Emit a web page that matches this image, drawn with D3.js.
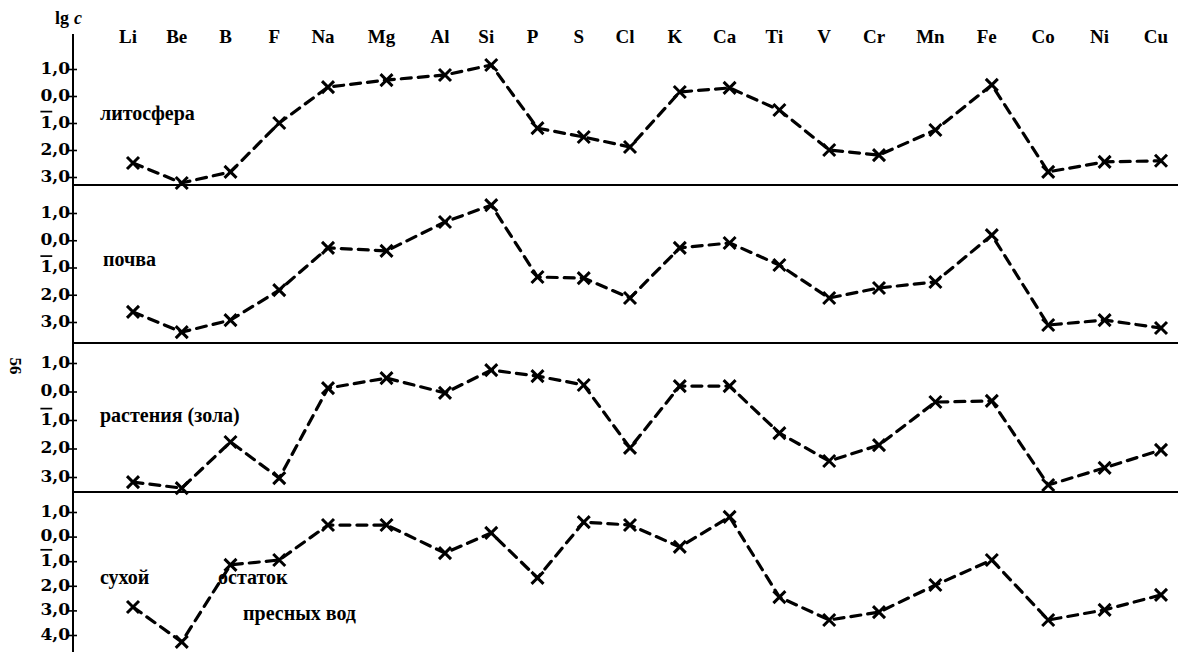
<!DOCTYPE html>
<html>
<head>
<meta charset="utf-8">
<script src="https://cdn.jsdelivr.net/npm/d3@7"></script>
<style>
  html, body { margin: 0; padding: 0; background: #fff; }
  svg { display: block; }
</style>
</head>
<body>
<div id="chart"></div>
<script>
// ---------------- data ----------------
const elements = ["Li","Be","B","F","Na","Mg","Al","Si","P","S","Cl","K","Ca","Ti","V","Cr","Mn","Fe","Co","Ni","Cu"];

const lithosphere = [-2.48,-3.22,-2.81,-1.0,0.33,0.59,0.78,1.15,-1.19,-1.52,-1.89,0.15,0.30,-0.52,-2.0,-2.19,-1.26,0.41,-2.81,-2.44,-2.4];
const soil        = [-2.63,-3.37,-2.93,-1.83,-0.28,-0.39,0.67,1.29,-1.35,-1.39,-2.12,-0.28,-0.10,-0.91,-2.12,-1.75,-1.53,0.19,-3.11,-2.93,-3.22];
const plantAsh    = [-3.18,-3.39,-1.77,-3.04,0.12,0.47,-0.05,0.75,0.54,0.23,-1.98,0.19,0.19,-1.46,-2.44,-1.88,-0.37,-0.33,-3.28,-2.68,-2.05];
const freshWater  = [-2.86,-4.28,-1.15,-0.95,0.47,0.47,-0.67,0.15,-1.68,0.59,0.47,-0.42,0.80,-2.46,-3.39,-3.07,-1.97,-0.95,-3.39,-2.98,-2.37];

const tickValues4 = [1,0,-1,-2,-3];
const tickLabels4 = ["1,0","0,0","1\u0304,0","2,0","3,0"];
const tickValues5 = [1,0,-1,-2,-3,-4];
const tickLabels5 = ["1,0","0,0","1\u0304,0","2,0","3,0","4,0"];

const labelLithosphere = ["литосфера"];
const labelSoil = ["почва"];
const labelPlants = ["растения (зола)"];
const labelWater = ["сухой","остаток","пресных вод"];

const axisTitle = "lg";
const axisTitleVar = "c";
const pageNumber = "56";

// ---------------- layout ----------------
const W = 1178, H = 655;
const axisX = 73;
const svg = d3.select("#chart").append("svg").attr("width", W).attr("height", H);

const serif = "'Liberation Serif', 'Times New Roman', serif";
const wideSerif = "'DejaVu Serif', serif";

// x: printed figure has slightly uneven column spacing
const x = d3.scaleLinear()
  .domain([0, 4, 6, 10, 15, 20])
  .range([133, 328, 445, 630, 879, 1161]);
const xi = name => x(elements.indexOf(name));

const panels = [
  { values: lithosphere, tv: tickValues4, tl: tickLabels4, domain: [1,-3], range: [69,177], sep: 185,
    labels: labelLithosphere, labelPos: [[100,120]] },
  { values: soil, tv: tickValues4, tl: tickLabels4, domain: [1,-3], range: [213,322], sep: 343,
    labels: labelSoil, labelPos: [[103,266]] },
  { values: plantAsh, tv: tickValues4, tl: tickLabels4, domain: [1,-3], range: [363,477], sep: 492,
    labels: labelPlants, labelPos: [[100,422]] },
  { values: freshWater, tv: tickValues5, tl: tickLabels5, domain: [1,-4], range: [512,635], sep: null,
    labels: labelWater, labelPos: [[100,584],[218,584],[243,620]] }
];

// vertical axis line
svg.append("line")
  .attr("x1", axisX).attr("x2", axisX).attr("y1", 34).attr("y2", 652)
  .attr("stroke", "#000").attr("stroke-width", 2);

// axis title
const t = svg.append("text").attr("x", 55).attr("y", 24)
  .attr("font-family", serif).attr("font-weight", "bold").attr("font-size", 18);
t.append("tspan").text(axisTitle);
t.append("tspan").attr("dx", 5).attr("font-style", "italic").text(axisTitleVar);

// column labels
svg.append("g").selectAll("text").data(elements).join("text")
  .attr("x", d => xi(d) - 5)
  .attr("y", 43)
  .attr("text-anchor", "middle")
  .attr("font-family", serif).attr("font-weight", "bold").attr("font-size", 19)
  .text(d => d);

// page number (rotated)
svg.append("text")
  .attr("transform", "translate(10,366) rotate(90)")
  .attr("text-anchor", "middle")
  .attr("font-family", serif).attr("font-weight", "bold").attr("font-size", 17)
  .text(pageNumber);

const markerSize = 6;

panels.forEach(p => {
  const y = d3.scaleLinear().domain(p.domain).range(p.range);
  const g = svg.append("g");

  // axis ticks + labels
  const ax = d3.axisLeft(y).tickValues(p.tv)
    .tickFormat(() => "").tickSizeInner(5).tickSizeOuter(0).tickPadding(0);
  const ag = g.append("g").attr("transform", `translate(${axisX},0)`).call(ax);
  ag.select(".domain").remove();
  ag.selectAll(".tick line").attr("x1", 4).attr("x2", -5).attr("stroke", "#000").attr("stroke-width", 1.6);
  ag.selectAll(".tick text").each(function(d, i) {
    const el = d3.select(this)
      .attr("font-family", wideSerif).attr("font-weight", "bold").attr("font-size", 17)
      .attr("fill", "#000").attr("dy", "0.25em").attr("x", -3);
    const label = p.tl[i];
    const k = label.indexOf("\u0304");
    if (k > 0) {
      el.append("tspan").style("text-decoration", "overline").text(label.slice(0, k));
      el.append("tspan").text(label.slice(k + 1));
    } else {
      el.text(label);
    }
  });

  // separator line
  if (p.sep !== null) {
    g.append("line").attr("x1", axisX).attr("x2", W).attr("y1", p.sep).attr("y2", p.sep)
      .attr("stroke", "#000").attr("stroke-width", 2.2);
  }

  // panel label
  p.labels.forEach((lab, i) => {
    g.append("text").attr("x", p.labelPos[i][0]).attr("y", p.labelPos[i][1])
      .attr("font-family", serif).attr("font-weight", "bold").attr("font-size", 20)
      .text(lab);
  });

  // dashed line
  const line = d3.line().x((d, i) => x(i)).y(d => y(d));
  g.append("path").datum(p.values)
    .attr("d", line)
    .attr("fill", "none").attr("stroke", "#000").attr("stroke-width", 3.2)
    .attr("stroke-dasharray", "10,7").attr("stroke-linecap", "round");

  // X markers
  g.append("g").selectAll("path").data(p.values).join("path")
    .attr("d", (d, i) => {
      const cx = x(i), cy = y(d), s = markerSize;
      return `M${cx - s},${cy - s}L${cx + s},${cy + s}M${cx - s},${cy + s}L${cx + s},${cy - s}`;
    })
    .attr("stroke", "#000").attr("stroke-width", 3).attr("fill", "none");
});
</script>
</body>
</html>
